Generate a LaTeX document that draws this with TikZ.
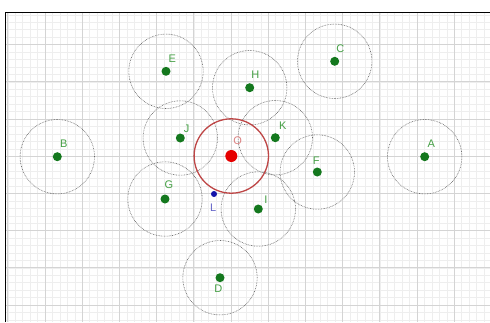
\documentclass[tikz,border=0pt]{standalone}
\usepackage{fontspec}
\setmainfont{Liberation Sans}
\definecolor{ptgreen}{RGB}{20,120,30}
\definecolor{lblgreen}{RGB}{70,160,70}
\definecolor{minorgrid}{RGB}{238,238,238}
\definecolor{majorgrid}{RGB}{212,212,212}
\definecolor{circred}{RGB}{190,70,70}
\definecolor{ptred}{RGB}{230,0,0}
\definecolor{lblred}{RGB}{220,130,130}
\definecolor{ptblue}{RGB}{20,20,170}
\definecolor{lblblue}{RGB}{100,100,200}
\tikzset{
  gdot/.style={circle,fill=ptgreen,inner sep=0pt,minimum size=9pt},
  glbl/.style={text=lblgreen,font=\fontsize{11}{11}\selectfont,inner sep=0pt},
  ring/.style={draw=black!60,line width=0.6pt,dash pattern=on 0.7pt off 0.9pt},
}
\begin{document}
\begin{tikzpicture}[x=1pt,y=-1pt]
\useasboundingbox (0,0) rectangle (490,322);
\fill[white] (0,0) rectangle (490,322);
\begin{scope}
\clip (5,12) rectangle (490,322);
\foreach \i in {0,...,66} {
  \pgfmathsetmacro\xx{7.8+7.44*\i}
  \draw[minorgrid,line width=0.45pt] (\xx,12) -- (\xx,322);
}
\foreach \j in {0,...,43} {
  \pgfmathsetmacro\yy{7.4+7.44*\j}
  \draw[minorgrid,line width=0.45pt] (5,\yy) -- (490,\yy);
}
\foreach \i in {0,...,13} {
  \pgfmathsetmacro\xx{7.8+37.2*\i}
  \draw[majorgrid,line width=0.8pt] (\xx,12) -- (\xx,322);
}
\foreach \j in {0,...,8} {
  \pgfmathsetmacro\yy{7.4+37.2*\j}
  \draw[majorgrid,line width=0.8pt] (5,\yy) -- (490,\yy);
}
\end{scope}
\draw[black,line width=1.4pt] (5.3,322) -- (5.3,12.6) -- (490,12.6);
% points
\node[gdot] (A) at (424.7,156.7) {};
\node[gdot] (B) at (57.3,156.7) {};
\node[gdot] (C) at (334.7,61.3) {};
\node[gdot] (D) at (220,277.7) {};
\node[gdot] (E) at (166,71.3) {};
\node[gdot] (F) at (317.3,172) {};
\node[gdot] (G) at (165,199) {};
\node[gdot] (H) at (249.7,87.7) {};
\node[gdot] (I) at (258.3,209) {};
\node[gdot] (J) at (180.3,138) {};
\node[gdot] (K) at (275.3,137.7) {};
\node[circle,fill=ptblue,inner sep=0pt,minimum size=6pt] (L) at (214,194) {};
\node[circle,fill=ptred,inner sep=0pt,minimum size=12pt] (O) at (231.3,156) {};
% circles
\foreach \p in {A,B,C,D,E,F,G,H,I,J,K}
  \draw[ring] (\p.center) circle[radius=37.2pt];
\draw[circred,line width=1.3pt] (O.center) circle[radius=37.2pt];
% labels
\node[glbl] (lA) at (431.3,144) {A};
\node[glbl] (lB) at (63.7,143.3) {B};
\node[glbl] (lC) at (340.3,48.3) {C};
\node[glbl] (lD) at (218.3,288.3) {D};
\node[glbl] (lE) at (172.3,59) {E};
\node[glbl] (lF) at (316.3,161) {F};
\node[glbl] (lG) at (169,184.3) {G};
\node[glbl] (lH) at (255.3,74.3) {H};
\node[glbl] (lI) at (266,200) {I};
\node[glbl] (lJ) at (186.7,129) {J};
\node[glbl] (lK) at (282.7,125.7) {K};
\node[glbl,text=lblblue] (lL) at (213.3,207.7) {L};
\node[glbl,text=lblred] (lO) at (237.7,141) {O};
\end{tikzpicture}
\end{document}
